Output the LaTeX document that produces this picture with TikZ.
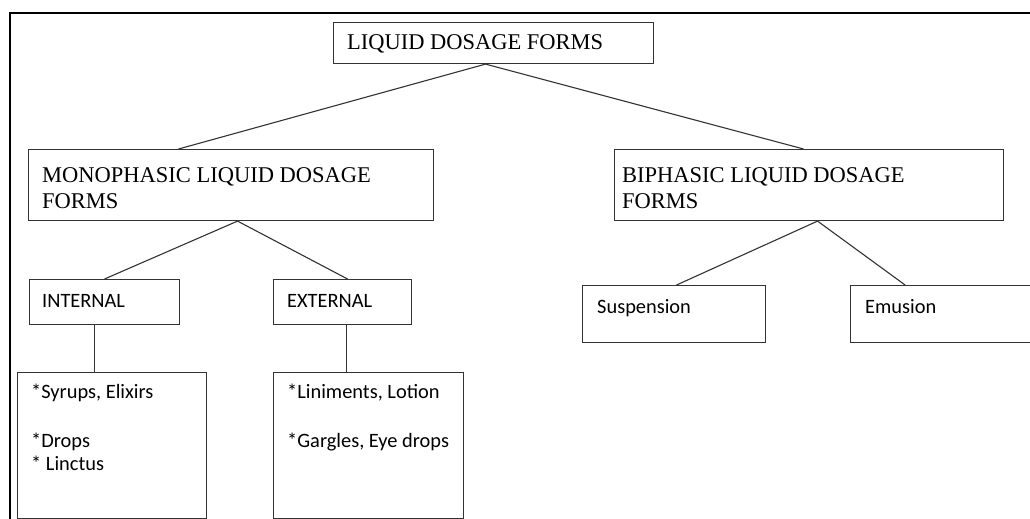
\documentclass[tikz,border=0pt]{standalone}
\usepackage{fontspec}
\usepackage{graphicx}
\setmainfont{Liberation Serif}
\newfontfamily\calibrifont{Carlito}
\usetikzlibrary{calc}
\begin{document}
\begin{tikzpicture}[x=1pt,y=-1pt,
  box/.style={draw=black!80,line width=1.1pt,rectangle,inner sep=0pt,anchor=north west},
  link/.style={draw=black!80,line width=1.1pt},
  serif/.style={anchor=base west,inner sep=0pt,font=\fontsize{22.5}{27}\selectfont},
  sans/.style={anchor=base west,inner sep=0pt,font=\calibrifont\fontsize{20.4}{24}\selectfont}]
\useasboundingbox (0,0) rectangle (1030,519);
\clip (0,0) rectangle (1030,519);
\fill[white] (0,0) rectangle (1030,519);
% frame
\draw[line width=2.6pt] (10,530) -- (10,13) -- (1040,13);
% boxes
\node[box,minimum width=320pt,minimum height=41pt] (top) at (333,22) {};
\node[box,minimum width=405pt,minimum height=71pt] (mono) at (28,149) {};
\node[box,minimum width=389pt,minimum height=71pt] (bi) at (614,149) {};
\node[box,minimum width=150pt,minimum height=45pt] (int) at (29,279) {};
\node[box,minimum width=138pt,minimum height=45pt] (ext) at (273,279) {};
\node[box,minimum width=189pt,minimum height=146pt] (intl) at (17,372) {};
\node[box,minimum width=190pt,minimum height=146pt] (extl) at (273,372) {};
\node[box,minimum width=183pt,minimum height=57pt] (sus) at (582,285) {};
\node[box,minimum width=200pt,minimum height=57pt] (emu) at (850,285) {};
% texts
\node[serif] (ttop) at (347,50) {\resizebox{256pt}{\height}{LIQUID DOSAGE FORMS}};
\node[serif] (tmono1) at (42,182) {MONOPHASIC LIQUID DOSAGE};
\node[serif] (tmono2) at (42,208) {FORMS};
\node[serif] (tbi1) at (622,182) {BIPHASIC LIQUID DOSAGE};
\node[serif] (tbi2) at (622,208) {FORMS};
\node[sans] (tint) at (42,307) {INTERNAL};
\node[sans] (text) at (287,307) {EXTERNAL};
\node[sans] (tsus) at (597,313) {Suspension};
\node[sans] (temu) at (865,313) {Emusion};
\node[sans] (ti1) at (31,398) {*Syrups, Elixirs};
\node[sans] (ti2) at (31,447) {*Drops};
\node[sans] (ti3) at (31,470) {* Linctus};
\node[sans] (te1) at (287,398) {*Liniments, Lotion};
\node[sans] (te2) at (287,447) {*Gargles, Eye drops};
% connectors
\draw[link] ([xshift=-8pt]top.south) -- ([xshift=-52.5pt]mono.north);
\draw[link] ([xshift=-8pt]top.south) -- ([xshift=-5.5pt]bi.north);
\draw[link] ([xshift=6.5pt]mono.south) -- (int.north);
\draw[link] ([xshift=6.5pt]mono.south) -- ([xshift=5pt]ext.north);
\draw[link] ([xshift=8.5pt]bi.south) -- ([xshift=2.5pt]sus.north);
\draw[link] ([xshift=8.5pt]bi.south) -- ([xshift=-146pt]emu.north east);
\draw[link] ([xshift=-10pt]int.south) -- ([xshift=-17.5pt]intl.north);
\draw[link] ([xshift=4pt]ext.south) -- ([xshift=-22pt]extl.north);
\end{tikzpicture}
\end{document}
